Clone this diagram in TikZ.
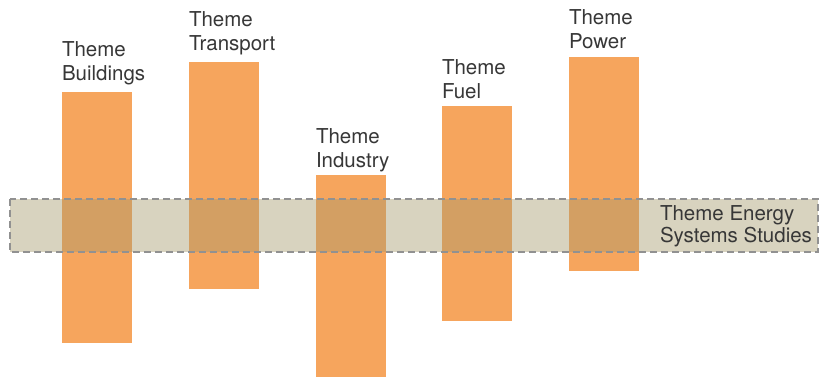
\documentclass[tikz,border=0pt]{standalone}
\usepackage{fontspec}
\setmainfont{TeX Gyre Heros}
\definecolor{barorange}{RGB}{246,165,93}
\definecolor{bandfill}{RGB}{165,153,107}
\definecolor{bandline}{RGB}{145,145,145}
\definecolor{txt}{RGB}{55,55,55}
\begin{document}
\begin{tikzpicture}[x=1bp,y=-1bp,
  bar/.style={fill=barorange,draw=none},
  band/.style={fill=bandfill,fill opacity=0.43,draw=bandline,draw opacity=1,line width=1.6bp,dash pattern=on 7bp off 4bp},
  lbl/.style={anchor=base west,inner sep=0pt,outer sep=0pt,text=txt,align=left,font=\fontsize{20.5bp}{24bp}\selectfont}]
\useasboundingbox (0,0) rectangle (824,377);
\fill[bar] (62,92) rectangle (132,343);
\fill[bar] (189,62) rectangle (259,289);
\fill[bar] (316,175) rectangle (386,377);
\fill[bar] (442,106) rectangle (512,321);
\fill[bar] (569,57) rectangle (639,271);
\path[band] (10,199) rectangle (818,252);
\node[lbl] (tb) at (62,80) {Theme\\Buildings};
\node[lbl] (tt) at (189,50) {Theme\\Transport};
\node[lbl] (ti) at (316,167) {Theme\\Industry};
\node[lbl] (tf) at (442,98) {Theme\\Fuel};
\node[lbl] (tp) at (569,48) {Theme\\Power};
\node[lbl,font=\fontsize{20.5bp}{22bp}\selectfont] (te) at (660,242) {Theme Energy\\Systems Studies};
\end{tikzpicture}
\end{document}
